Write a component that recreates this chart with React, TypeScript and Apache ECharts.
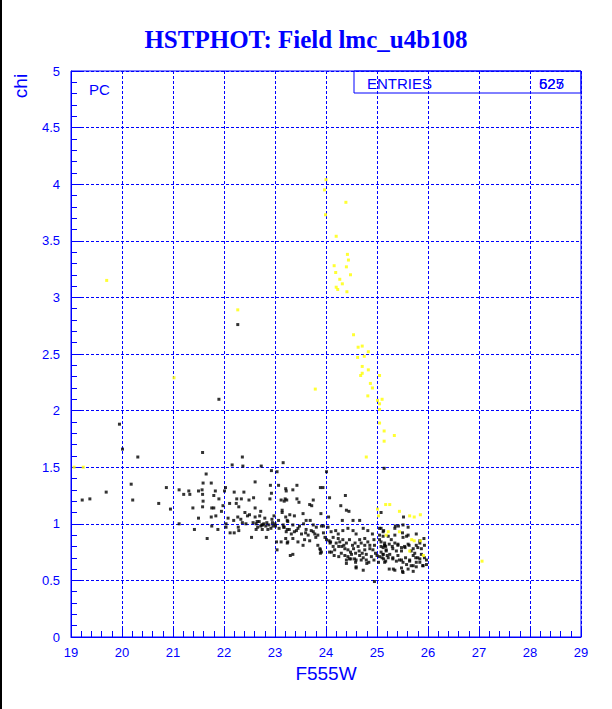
import React, { useEffect, useRef } from "react";
import * as echarts from "echarts";

const TITLE = "HSTPHOT: Field lmc_u4b108";
const X_NAME = "F555W";
const Y_NAME = "chi";
const PAD_LABEL = "PC";
const ENTRIES_LABEL = "ENTRIES";
const ENTRY_VALUES = ["625", "527"];

const X_MIN = 19;
const X_MAX = 29;
const Y_MIN = 0;
const Y_MAX = 5;

// black points [F555W, chi]
const blackPoints: [number, number][] = [
  [19.95, 1.88], [20.01, 1.66], [20.31, 1.59], [20.18, 1.35], [19.69, 1.28], [19.22, 1.21],
  [19.37, 1.22], [20.21, 1.21], [20.72, 1.18], [21.58, 1.63], [22.36, 1.59], [22.27, 2.76],
  [21.9, 2.1],
  [20.87, 1.32], [20.95, 1.13], [21.12, 1.3], [21.12, 1.0], [21.21, 1.26], [21.31, 1.29],
  [21.33, 1.26], [21.39, 1.14], [21.42, 0.95], [21.5, 1.29], [21.5, 1.05], [21.57, 1.3],
  [21.59, 1.36], [21.58, 1.26], [21.59, 1.2], [21.58, 1.15], [21.65, 1.44], [21.67, 0.87],
  [21.75, 1.36], [21.76, 1.14], [21.8, 1.14], [21.75, 1.06], [21.76, 0.98], [21.8, 1.25],
  [21.83, 1.29], [21.84, 1.07], [21.88, 0.95], [21.9, 1.22], [21.95, 1.11], [21.98, 1.16],
  [22.03, 1.32], [22.01, 1.29], [22.04, 1.0], [22.04, 0.97], [22.08, 1.05], [22.11, 1.18],
  [22.12, 0.92], [22.16, 1.52], [22.2, 1.28], [22.2, 0.92], [22.19, 1.03], [22.24, 1.18],
  [22.25, 1.22], [22.27, 1.06], [22.29, 1.15], [22.28, 0.97], [22.29, 0.94], [22.34, 1.22],
  [22.37, 1.51], [22.33, 1.04], [22.36, 1.01], [22.39, 1.28], [22.41, 1.1], [22.43, 1.0],
  [22.46, 1.07], [22.49, 1.21], [22.5, 1.08], [22.54, 0.88], [22.57, 1.01], [22.58, 1.23],
  [22.61, 1.37], [22.61, 1.14], [22.61, 1.06], [22.63, 1.0], [22.63, 0.95], [22.66, 0.97],
  [22.69, 1.02], [22.7, 1.07], [22.72, 1.11], [22.73, 1.51], [22.74, 0.99], [22.75, 0.95],
  [22.76, 0.99], [22.8, 1.05], [22.82, 0.98], [22.83, 0.88], [22.84, 1.01], [22.86, 0.95],
  [22.9, 1.22], [22.91, 1.34], [22.93, 1.27], [22.93, 1.47], [22.94, 1.04], [22.95, 1.01],
  [22.96, 0.98], [22.98, 1.07], [23.01, 0.98], [23.03, 0.84], [23.04, 1.46], [23.04, 0.77],
  [23.07, 1.03], [23.07, 1.34], [23.12, 1.21], [23.14, 1.12], [23.16, 0.99], [23.18, 0.97],
  [23.2, 1.22], [23.21, 1.31], [23.22, 1.29], [23.24, 1.03], [23.24, 0.95], [23.21, 0.87],
  [23.25, 0.84], [23.16, 1.54], [25.14, 1.49], [24.01, 1.46],
  [22.65, 1.02], [22.72, 0.98], [22.78, 1.0], [22.88, 0.99], [22.92, 0.96], [23.0, 1.0],
  [23.08, 0.96], [23.28, 0.95], [23.38, 0.93], [23.45, 0.96], [23.6, 0.92], [23.65, 0.9],
  [23.75, 0.93], [23.8, 0.88], [23.95, 0.92], [23.98, 0.88],
  [23.43, 1.34], [23.35, 1.3], [23.18, 1.2], [23.23, 1.21], [23.43, 1.22], [23.47, 1.19],
  [23.68, 1.17], [23.72, 1.16], [23.75, 1.21], [23.89, 1.32], [23.94, 1.32], [24.07, 1.23],
  [24.38, 1.25], [24.29, 1.16], [23.14, 1.1], [23.21, 1.06], [23.29, 1.08], [23.38, 1.07],
  [23.55, 1.09], [23.61, 1.03], [23.69, 1.03], [23.9, 1.09], [24.05, 1.06], [24.32, 1.03],
  [24.4, 1.12], [24.45, 1.11], [24.66, 1.03], [24.53, 1.03], [23.25, 1.02], [23.35, 0.99],
  [23.48, 0.98], [23.56, 1.0], [23.75, 0.99], [23.81, 0.97], [23.91, 0.98], [23.95, 0.98],
  [23.17, 0.97], [23.22, 0.93], [23.32, 0.91], [23.42, 0.94], [23.52, 0.91], [23.61, 0.95],
  [23.71, 0.94], [23.78, 0.91], [23.84, 0.9], [24.04, 0.97], [24.1, 0.93], [24.19, 0.94],
  [24.24, 0.91], [24.33, 0.94], [24.43, 0.96], [24.53, 0.94], [24.59, 0.91], [24.73, 0.96],
  [24.82, 0.94], [24.91, 0.91], [23.24, 0.83], [23.35, 0.87], [23.45, 0.84], [23.58, 0.86],
  [23.68, 0.85], [23.89, 0.77], [23.89, 0.74], [24.01, 0.86], [24.09, 0.84], [24.14, 0.88],
  [24.2, 0.83], [24.27, 0.84], [24.33, 0.86], [24.4, 0.83], [24.46, 0.86], [24.52, 0.81],
  [24.57, 0.83], [24.63, 0.8], [24.69, 0.83], [24.76, 0.81], [24.82, 0.84], [24.86, 0.78],
  [24.95, 0.81], [25.05, 0.86], [25.08, 0.8], [25.15, 0.81], [25.18, 0.77], [24.07, 0.75],
  [24.17, 0.77], [24.3, 0.74], [24.37, 0.72], [24.43, 0.71], [24.5, 0.73], [24.56, 0.69],
  [24.59, 0.68], [24.66, 0.72], [24.73, 0.7], [24.79, 0.68], [24.89, 0.71], [24.97, 0.74],
  [25.05, 0.71], [25.12, 0.73], [24.59, 0.61], [24.73, 0.59], [24.84, 0.66], [23.12, 0.84],
  [23.3, 0.72], [23.84, 0.81], [23.35, 0.73], [23.55, 0.81], [23.88, 0.78], [23.91, 0.75],
  [24.11, 0.75],
  [24.06, 0.85], [24.08, 0.83], [24.24, 0.87], [24.25, 0.8], [24.31, 0.8], [24.37, 0.78],
  [24.43, 0.77], [24.48, 0.75], [24.54, 0.78], [24.58, 0.74], [24.65, 0.76], [24.69, 0.68],
  [24.71, 0.74], [24.76, 0.77], [24.79, 0.73], [24.8, 0.65], [24.86, 0.81], [24.92, 0.77],
  [24.94, 0.68], [25.0, 0.72], [25.03, 0.66], [25.08, 0.75], [25.13, 0.69], [25.17, 0.8],
  [25.2, 0.72], [24.58, 0.66], [24.49, 0.69], [24.4, 0.68], [24.35, 0.81], [24.14, 0.8],
  [24.16, 0.72], [24.25, 0.71], [24.66, 0.86], [24.76, 0.87], [24.94, 0.86], [25.05, 0.9],
  [25.12, 0.89],
  [25.08, 1.1], [25.52, 1.06], [25.36, 0.98], [25.42, 0.98], [25.51, 0.99], [25.61, 0.97],
  [25.05, 0.96], [25.12, 0.93], [25.35, 0.9], [25.51, 0.88], [25.61, 0.9], [25.77, 0.91],
  [25.84, 0.85], [25.08, 0.84], [25.15, 0.81], [25.24, 0.82], [25.31, 0.78], [25.41, 0.81],
  [25.48, 0.76], [25.55, 0.79], [25.63, 0.81], [25.71, 0.78], [25.77, 0.81], [25.87, 0.78],
  [25.93, 0.81], [25.12, 0.73], [25.22, 0.7], [25.31, 0.69], [25.41, 0.72], [25.48, 0.68],
  [25.56, 0.7], [25.64, 0.68], [25.71, 0.72], [25.77, 0.66], [25.84, 0.69], [25.9, 0.63],
  [25.97, 0.68], [25.15, 0.66], [25.32, 0.6], [25.5, 0.58], [25.67, 0.63], [25.76, 0.7],
  [24.95, 0.49], [24.59, 0.62], [24.46, 0.69], [24.4, 0.65],
  [25.08, 0.96], [25.13, 0.94], [25.22, 0.89], [25.28, 0.86], [25.35, 0.83], [25.41, 0.82],
  [25.48, 0.79], [25.54, 0.8], [25.61, 0.82], [25.67, 0.76], [25.74, 0.74], [25.8, 0.79],
  [25.87, 0.73], [25.93, 0.7], [25.97, 0.64], [25.12, 0.79], [25.18, 0.76], [25.25, 0.73],
  [25.31, 0.7], [25.38, 0.67], [25.44, 0.68], [25.51, 0.66], [25.58, 0.64], [25.64, 0.67],
  [25.71, 0.63], [25.77, 0.62], [25.84, 0.66], [25.9, 0.63], [25.1, 0.7], [25.17, 0.67],
  [25.24, 0.6], [25.35, 0.59], [25.48, 0.61], [25.61, 0.6], [25.51, 0.57], [25.71, 0.58],
  [25.8, 0.7], [25.38, 0.76], [25.3, 0.8], [25.15, 0.83], [25.84, 0.83], [25.92, 0.87],
  [25.58, 0.89], [25.5, 0.92], [25.35, 0.96]
];

// yellow points [F555W, chi]
const yellowPoints: [number, number][] = [
  [19.06, 1.5], [19.24, 1.5], [19.7, 3.15], [21.02, 2.29], [22.27, 2.89],
  [24.0, 4.04], [23.97, 3.95], [24.39, 3.84], [23.99, 3.73], [24.2, 3.54], [24.42, 3.38],
  [24.44, 3.33], [24.16, 3.28], [24.4, 3.27], [24.19, 3.22], [24.48, 3.2], [24.27, 3.16],
  [24.32, 3.12], [24.2, 3.09], [24.23, 3.07], [24.41, 3.05], [24.54, 2.67], [24.63, 2.56],
  [24.71, 2.57], [24.83, 2.52], [24.62, 2.47], [24.75, 2.48], [24.71, 2.39], [24.83, 2.36],
  [24.68, 2.31], [24.71, 2.33], [25.05, 2.31], [24.87, 2.24], [24.91, 2.2], [23.79, 2.19],
  [24.82, 2.13], [25.1, 2.1], [25.01, 2.09], [25.05, 2.06], [25.05, 2.01],
  [25.05, 1.89], [25.14, 1.82], [25.34, 1.78], [25.14, 1.73], [24.79, 1.59],
  [25.01, 1.13], [25.17, 1.17], [25.25, 1.17], [25.44, 1.11], [25.64, 1.07], [25.73, 1.06],
  [25.85, 1.08], [25.03, 1.07], [25.22, 0.93], [25.18, 0.9], [25.44, 0.93], [25.68, 0.86],
  [25.73, 0.85], [25.85, 0.85], [25.64, 0.76], [25.91, 0.72], [27.06, 0.67]
];

const BLUE = "#0000ff";
const SANS = "'Liberation Sans', Arial, Helvetica, sans-serif";

export default function App() {
  const ref = useRef<HTMLDivElement>(null);
  useEffect(() => {
    const chart = echarts.init(ref.current!, null, { renderer: "svg" });
    const axisCommon = {
      type: "value" as const,
      axisLine: { show: true, onZero: false, lineStyle: { color: BLUE, width: 1 } },
      minorTick: { show: true, splitNumber: 5, length: 6, lineStyle: { color: BLUE, width: 1 } },
      splitLine: { show: true, lineStyle: { color: BLUE, width: 1, type: [3, 2] } },
      minorSplitLine: { show: false },
      axisLabel: { color: BLUE, fontFamily: SANS, fontSize: 13 },
    };
    chart.setOption({
      animation: false,
      backgroundColor: "#ffffff",
      title: {
        text: TITLE,
        left: "center",
        top: 22,
        textStyle: { fontFamily: "'Liberation Serif', 'Times New Roman', serif", fontWeight: "bold", fontSize: 25, color: BLUE },
      },
      grid: { left: 71, top: 71, width: 510, height: 566, show: true, borderColor: BLUE, borderWidth: 1, backgroundColor: "transparent" },
      xAxis: {
        ...axisCommon,
        min: X_MIN,
        max: X_MAX,
        interval: 1,
        axisTick: { show: true, inside: true, length: 10, lineStyle: { color: BLUE, width: 1 } },
        axisLabel: { ...axisCommon.axisLabel, margin: 9 },
        name: X_NAME,
        nameLocation: "middle",
        nameGap: 27,
        nameTextStyle: { color: BLUE, fontFamily: SANS, fontSize: 19 },
      },
      yAxis: {
        ...axisCommon,
        min: Y_MIN,
        max: Y_MAX,
        interval: 0.5,
        axisTick: { show: true, inside: true, length: 12, lineStyle: { color: BLUE, width: 1 } },
        axisLabel: { ...axisCommon.axisLabel, margin: 11 },
      },
      graphic: [
        { type: "rect", left: 0, top: 0, shape: { width: 2, height: 709 }, style: { fill: "#000" } },
        {
          type: "text",
          x: 20,
          y: 86,
          rotation: Math.PI / 2,
          style: { text: Y_NAME, fill: BLUE, font: `19px ${SANS}`, textAlign: "center", textVerticalAlign: "middle" },
        },
        { type: "text", x: 89, y: 89, style: { text: PAD_LABEL, fill: BLUE, font: `15px ${SANS}`, textAlign: "left", textVerticalAlign: "middle" } },
        { type: "rect", shape: { x: 354, y: 71, width: 227, height: 22 }, style: { fill: "none", stroke: BLUE, lineWidth: 1 } },
        { type: "text", x: 367, y: 83, style: { text: ENTRIES_LABEL, fill: BLUE, font: `15px ${SANS}`, textAlign: "left", textVerticalAlign: "middle" } },
        ...ENTRY_VALUES.map((v) => ({
          type: "text",
          x: 539,
          y: 83,
          style: { text: v, fill: BLUE, font: `15px ${SANS}`, textAlign: "left", textVerticalAlign: "middle" },
        })),
      ],
      series: [
        {
          type: "scatter",
          name: "black",
          data: blackPoints,
          symbol: "rect",
          symbolSize: 3,
          itemStyle: { color: "#000000" },
          silent: true,
        },
        {
          type: "scatter",
          name: "yellow",
          data: yellowPoints,
          symbol: "rect",
          symbolSize: 3,
          itemStyle: { color: "#ffff00" },
          silent: true,
        },
      ],
    });
    return () => chart.dispose();
  }, []);
  return <div ref={ref} style={{ position: "fixed", left: 0, top: 0, width: 612, height: 709, background: "#fff" }} />;
}
